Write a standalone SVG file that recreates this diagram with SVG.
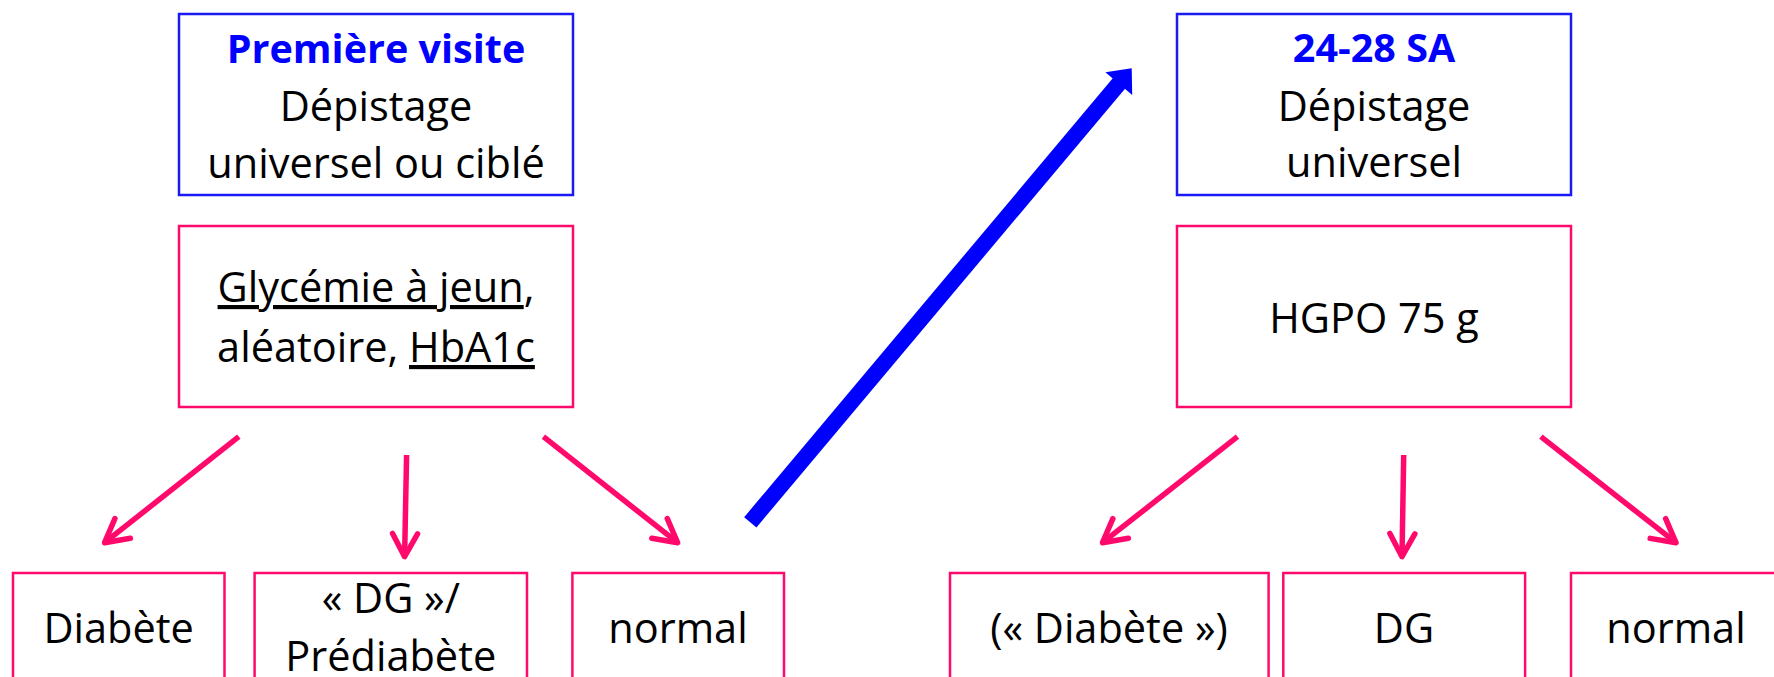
<svg xmlns="http://www.w3.org/2000/svg" width="1774" height="677" viewBox="0 0 1774 677">
  <style>
    .blue { fill: #ffffff; stroke: #1a1af5; stroke-width: 2.5; }
    .pink { fill: #ffffff; stroke: #ff0a6c; stroke-width: 2.5; }
    text { font-family: "Open Sans", "Liberation Sans", sans-serif; font-size: 41.5px; fill: #000000; text-anchor: middle; }
    .title { font-weight: bold; fill: #0000ff; font-size: 39.5px; }
    .u { text-decoration: underline; }
    .flow { stroke: #ff0a6c; stroke-width: 5.5; fill: none; marker-end: url(#vhead); }
  </style>
  <defs>
    <marker id="vhead" markerUnits="userSpaceOnUse" viewBox="-30 -18 36 36" refX="0" refY="0" markerWidth="36" markerHeight="36" orient="auto" overflow="visible">
      <path d="M-23,-12.5 L0,0 L-23,12.5" fill="none" stroke="#ff0a6c" stroke-width="5.5" stroke-linecap="round" stroke-linejoin="round"/>
    </marker>
  </defs>
  <rect width="1774" height="677" fill="#ffffff"/>

  <!-- first visit screening -->
  <g id="visite1">
    <rect class="blue" x="179" y="14" width="394" height="181"/>
    <text x="376" y="63" class="title">Première visite</text>
    <text x="376" y="121">Dépistage</text>
    <text x="376" y="178">universel ou ciblé</text>
  </g>
  <g id="tests1">
    <rect class="pink" x="179" y="226" width="394" height="181"/>
    <text x="376" y="302"><tspan class="u">Glycémie à jeun</tspan>,</text>
    <text x="376" y="362">aléatoire, <tspan class="u">HbA1c</tspan></text>
  </g>

  <!-- 24-28 weeks screening -->
  <g id="visite2">
    <rect class="blue" x="1177" y="14" width="394" height="181"/>
    <text x="1374" y="62" class="title">24-28 SA</text>
    <text x="1374" y="121">Dépistage</text>
    <text x="1374" y="177">universel</text>
  </g>
  <g id="tests2">
    <rect class="pink" x="1177" y="226" width="394" height="181"/>
    <text x="1374" y="333">HGPO 75 g</text>
  </g>

  <!-- outcomes, first visit -->
  <g id="diabete">
    <rect class="pink" x="13" y="573" width="211.5" height="130"/>
    <text x="118.7" y="643">Diabète</text>
  </g>
  <g id="prediabete">
    <rect class="pink" x="254.6" y="573" width="272.4" height="130"/>
    <text x="390.8" y="613">« DG »/</text>
    <text x="390.8" y="671">Prédiabète</text>
  </g>
  <g id="normal1">
    <rect class="pink" x="572.4" y="573" width="211.6" height="130"/>
    <text x="678" y="643">normal</text>
  </g>

  <!-- outcomes, 24-28 weeks -->
  <g id="diabete2">
    <rect class="pink" x="950" y="573" width="318.6" height="130"/>
    <text x="1109" y="643">(« Diabète »)</text>
  </g>
  <g id="dg">
    <rect class="pink" x="1283.3" y="573" width="241.8" height="130"/>
    <text x="1404" y="643">DG</text>
  </g>
  <g id="normal2">
    <rect class="pink" x="1571" y="573" width="210" height="130"/>
    <text x="1676" y="643">normal</text>
  </g>

  <!-- connectors -->
  <g id="connectors">
    <line class="flow" x1="238.8" y1="436.7" x2="104.6" y2="542.7"/>
    <line class="flow" x1="406.6" y1="455" x2="404.6" y2="556.7"/>
    <line class="flow" x1="543.4" y1="436.7" x2="677.6" y2="542.7"/>
    <line class="flow" x1="1237.5" y1="436.7" x2="1102.5" y2="542.7"/>
    <line class="flow" x1="1403.7" y1="455" x2="1402" y2="556.7"/>
    <line class="flow" x1="1540.9" y1="436.7" x2="1676" y2="542.7"/>
    <!-- normal result leads on to the 24-28 SA screening -->
    <line x1="750.3" y1="522.3" x2="1121" y2="81" stroke="#0000ff" stroke-width="16"/>
    <polygon points="1131.7,68.3 1132.2,94.9 1105.4,72.3" fill="#0000ff"/>
  </g>
</svg>
